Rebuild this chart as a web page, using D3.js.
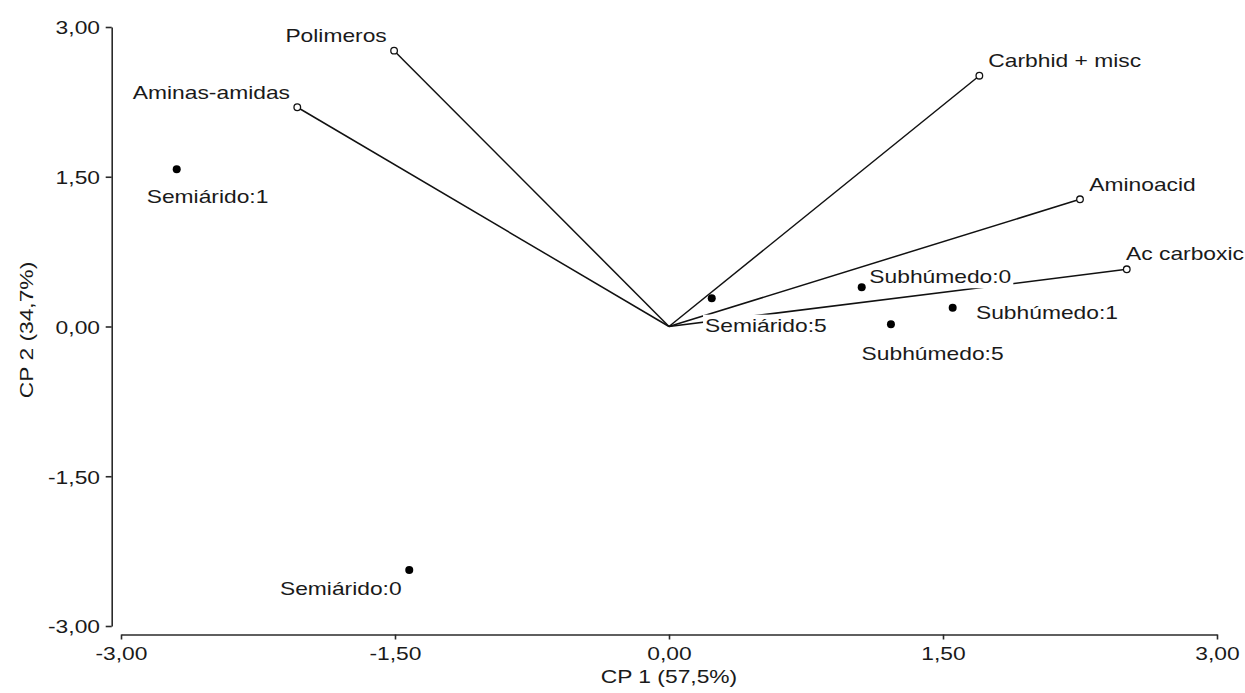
<!DOCTYPE html>
<html>
<head>
<meta charset="utf-8">
<script src="https://cdn.jsdelivr.net/npm/d3@7"></script>
<style>
  html, body { margin: 0; padding: 0; background: #fff; }
  svg { display: block; font-family: "Liberation Sans", Arial, sans-serif; }
</style>
</head>
<body>
<svg id="chart" width="1245" height="693"></svg>
<script>
// ---- data ----
const varNames = ["Polimeros", "Aminas-amidas", "Carbhid + misc", "Aminoacid", "Ac carboxic"];
const varCP1   = [-1.505, -2.035, 1.699, 2.250, 2.506];
const varCP2   = [ 2.763,  2.196, 2.512, 1.274, 0.573];

const obsNames = ["Semiárido:1", "Semiárido:0", "Semiárido:5", "Subhúmedo:0", "Subhúmedo:1", "Subhúmedo:5"];
const obsCP1   = [-2.695, -1.422, 0.234, 1.055, 1.553, 1.215];
const obsCP2   = [ 1.575, -2.439, 0.283, 0.393, 0.188, 0.022];

const tickValues = [-3, -1.5, 0, 1.5, 3];
const tickLabels = ["-3,00", "-1,50", "0,00", "1,50", "3,00"];
const xTitle = "CP 1 (57,5%)";
const yTitle = "CP 2 (34,7%)";

// ---- layout (label placement relative to marker, px) ----
const varLabelPos = [
  {anchor: "end",   dx: -7.3, dy: -9.0},
  {anchor: "end",   dx: -7.3, dy: -8.0},
  {anchor: "start", dx:  9.0, dy: -8.4},
  {anchor: "start", dx:  9.3, dy: -8.6},
  {anchor: "start", dx: -0.7, dy: -9.3}
];
const obsLabelPos = [
  {anchor: "start", dx: -30.0, dy: 33.4},
  {anchor: "end",   dx:  -7.6, dy: 25.0},
  {anchor: "start", dx:  -6.7, dy: 33.4},
  {anchor: "start", dx:   7.6, dy: -4.0},
  {anchor: "start", dx:  23.3, dy: 11.0},
  {anchor: "start", dx: -29.3, dy: 35.7}
];

const FONT = 19, STRETCH = 1.2, INK = "#1a1a1a";

const svg = d3.select("#chart");
const x = d3.scaleLinear().domain([-3, 3]).range([121, 1217]);
const y = d3.scaleLinear().domain([-3, 3]).range([626, 27]);
const xAxisY = 634.5, yAxisX = 111.7;

function stretch(node, anchor) {
  const w0 = node.getComputedTextLength();
  const w = w0 * STRETCH;
  const x0 = +(node.getAttribute("x") || 0);
  let left = x0;
  if (anchor === "end") left = x0 - w;
  else if (anchor === "middle") left = x0 - w / 2;
  node.setAttribute("x", left);
  node.setAttribute("text-anchor", "start");
  node.setAttribute("textLength", w);
  node.setAttribute("lengthAdjust", "spacingAndGlyphs");
  return {left, w};
}

// ---- axes ----
const fmt = d => tickLabels[tickValues.indexOf(d)];
const gx = svg.append("g").attr("transform", `translate(0,${xAxisY})`)
  .call(d3.axisBottom(x).tickValues(tickValues).tickFormat(fmt).tickSizeOuter(0).tickSizeInner(5).tickPadding(7));
const gy = svg.append("g").attr("transform", `translate(${yAxisX},0)`)
  .call(d3.axisLeft(y).tickValues(tickValues).tickFormat(fmt).tickSizeOuter(0).tickSizeInner(6).tickPadding(5.7));
[gx, gy].forEach(g => {
  g.attr("font-family", null).attr("font-size", null);
  g.select(".domain").attr("stroke", "#2a2a2a").attr("stroke-width", 1.6);
  g.selectAll(".tick line").attr("stroke", "#2a2a2a").attr("stroke-width", 1.6);
  g.selectAll(".tick text").attr("fill", INK).style("font-size", FONT + "px");
});
gx.selectAll(".tick text").each(function(){ stretch(this, "middle"); });
gy.selectAll(".tick text").attr("dy", "0.36em").each(function(){ stretch(this, "end"); });

// axis titles
const xt = svg.append("text").attr("x", x(0)).attr("y", 683)
  .attr("fill", INK).style("font-size", FONT + "px").text(xTitle);
stretch(xt.node(), "middle");
const yt = svg.append("text").attr("transform", `translate(33,${330}) rotate(-90)`)
  .attr("x", 0).attr("y", 0).attr("fill", INK).style("font-size", FONT + "px").text(yTitle);
stretch(yt.node(), "middle");

// ---- vectors ----
const gv = svg.append("g");
varNames.forEach((n, i) => {
  gv.append("line")
    .attr("x1", x(0)).attr("y1", y(0))
    .attr("x2", x(varCP1[i])).attr("y2", y(varCP2[i]))
    .attr("stroke", "#111").attr("stroke-width", 1.5);
});

// ---- labels with white boxes ----
const gl = svg.append("g");
function addLabel(px, py, name, pos) {
  const g = gl.append("g");
  const rect = g.append("rect").attr("fill", "#fff");
  const t = g.append("text").attr("x", px + pos.dx).attr("y", py + pos.dy)
    .attr("fill", INK).style("font-size", FONT + "px").text(name);
  const r = stretch(t.node(), pos.anchor);
  const by = py + pos.dy;
  rect.attr("x", r.left - 2).attr("y", by - 17).attr("width", r.w + 4).attr("height", 22);
}
varNames.forEach((n, i) => addLabel(x(varCP1[i]), y(varCP2[i]), n, varLabelPos[i]));
obsNames.forEach((n, i) => addLabel(x(obsCP1[i]), y(obsCP2[i]), n, obsLabelPos[i]));

// ---- markers ----
const gm = svg.append("g");
varNames.forEach((n, i) => {
  gm.append("circle").attr("cx", x(varCP1[i])).attr("cy", y(varCP2[i])).attr("r", 3.3)
    .attr("fill", "#fff").attr("stroke", "#111").attr("stroke-width", 1.3);
});
obsNames.forEach((n, i) => {
  gm.append("circle").attr("cx", x(obsCP1[i])).attr("cy", y(obsCP2[i])).attr("r", 4)
    .attr("fill", "#000");
});
</script>
</body>
</html>
